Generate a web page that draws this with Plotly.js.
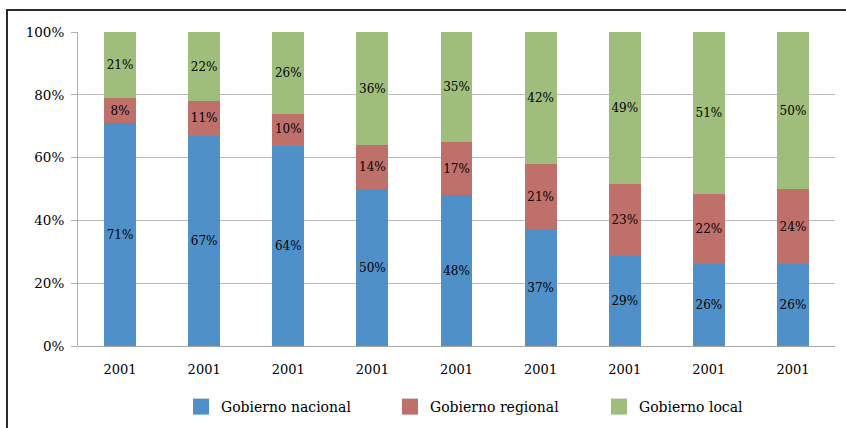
<!DOCTYPE html>
<html>
<head>
<meta charset="utf-8">
<script src="https://cdn.plot.ly/plotly-3.0.1.min.js"></script>
<style>
  html, body { margin: 0; padding: 0; background: #fff; }
  #wrap { position: relative; width: 846px; height: 428px; }
  #chart { position: absolute; left: 0; top: 0; width: 846px; height: 428px; }
  #frame { position: absolute; left: 6px; top: 9px; right: 0; bottom: 0;
           border-top: 2px solid #2a2a2a; border-left: 2px solid #2a2a2a; pointer-events: none; }
</style>
</head>
<body>
<div id="wrap">
  <div id="chart"></div>
  <div id="frame"></div>
</div>
<script>
const categories = ["2001", "2001", "2001", "2001", "2001", "2001", "2001", "2001", "2001"];
const nacional = [71, 67, 64, 50, 48, 37, 29, 26, 26];
const regional = [8, 11, 10, 14, 17, 21, 23, 22, 24];
const local = [21, 22, 26, 36, 35, 42, 49, 51, 50];
const seriesNames = ["Gobierno nacional", "Gobierno regional", "Gobierno local"];
const colors = ["#4f90c8", "#c0706a", "#9fbe7b"];

const xpos = categories.map((_, i) => i);
const font = "DejaVu Serif";

function mk(vals, name, color) {
  return {
    type: "bar",
    x: xpos,
    y: vals,
    name: name,
    showlegend: false,
    marker: { color: color, line: { width: 0 } },
    text: vals.map(v => v + "%"),
    textposition: "inside",
    insidetextanchor: "middle",
    textangle: 0,
    constraintext: "none",
    textfont: { family: font, size: 12, color: "#000" },
    hoverinfo: "skip"
  };
}

function leg(name, color) {
  return {
    type: "scatter",
    mode: "markers",
    x: [null],
    y: [null],
    name: name,
    marker: { symbol: "square", size: 17, color: color },
    hoverinfo: "skip"
  };
}

const data = [
  mk(nacional, seriesNames[0], colors[0]),
  mk(regional, seriesNames[1], colors[1]),
  mk(local, seriesNames[2], colors[2]),
  leg(seriesNames[0], colors[0]),
  leg(seriesNames[1], colors[1]),
  leg(seriesNames[2], colors[2])
];

const layout = {
  width: 846,
  height: 428,
  margin: { l: 78, r: 11, t: 32, b: 82 },
  paper_bgcolor: "#fff",
  plot_bgcolor: "#fff",
  barmode: "stack",
  barnorm: "percent",
  bargap: 0.62,
  font: { family: font, color: "#000", size: 13 },
  xaxis: {
    range: [-0.5, 8.5],
    tickvals: xpos,
    ticktext: categories,
    showgrid: false,
    zeroline: false,
    showline: false,
    ticks: "",
    ticklabelstandoff: 14,
    automargin: false,
    tickfont: { family: font, size: 13, color: "#000" },
    fixedrange: true
  },
  yaxis: {
    range: [0, 100],
    dtick: 20,
    ticksuffix: "%",
    showgrid: true,
    gridcolor: "#bdbdbd",
    gridwidth: 1,
    zeroline: true,
    zerolinecolor: "#a6a6a6",
    zerolinewidth: 1,
    showline: true,
    linecolor: "#b0b0b0",
    linewidth: 1,
    ticks: "outside",
    ticklen: 6,
    tickcolor: "#b0b0b0",
    ticklabelstandoff: 4,
    automargin: false,
    tickfont: { family: font, size: 13.5, color: "#000" },
    fixedrange: true
  },
  showlegend: true,
  legend: {
    orientation: "h",
    xref: "container",
    yref: "container",
    x: 181 / 846,
    xanchor: "left",
    y: (428 - 407) / 428,
    yanchor: "middle",
    entrywidth: 164,
    traceorder: "normal",
    font: { family: font, size: 14, color: "#000" },
    bgcolor: "rgba(0,0,0,0)"
  }
};

Plotly.newPlot("chart", data, layout, { displayModeBar: false, staticPlot: true });
</script>
</body>
</html>
